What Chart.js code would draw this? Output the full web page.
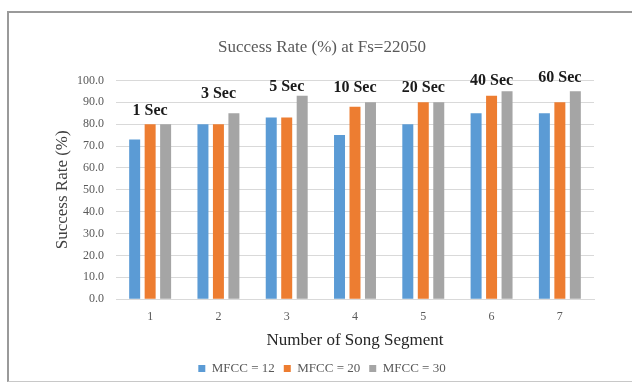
<!DOCTYPE html>
<html>
<head>
<meta charset="utf-8">
<script src="https://cdn.jsdelivr.net/npm/chart.js@4.4.1/dist/chart.umd.min.js"></script>
<style>
  html, body { margin: 0; padding: 0; background: #ffffff; }
  #wrap { position: relative; width: 632px; height: 385px; overflow: hidden; }
  #frame { position: absolute; left: 7px; top: 11px; width: 660px; height: 368px;
           border-left: 2px solid #9a9a9a; border-top: 2px solid #9a9a9a; border-bottom: 1px solid #c8c8c8; }
  canvas { position: absolute; left: 0; top: 0; }
</style>
</head>
<body>
<div id="wrap">
  <div id="frame"></div>
  <canvas id="c" width="632" height="385"></canvas>
</div>
<script>
const categories = ['1', '2', '3', '4', '5', '6', '7'];
const segmentLabels = ['1 Sec', '3 Sec', '5 Sec', '10 Sec', '20 Sec', '40 Sec', '60 Sec'];
const segmentLabelValues = [86, 94, 97, 96.5, 96.5, 100, 101];
const mfcc12 = [73, 80, 83, 75, 80, 85, 85];
const mfcc20 = [80, 80, 83, 88, 90, 93, 90];
const mfcc30 = [80, 85, 93, 90, 90, 95, 95];
const yTicks = [0, 10, 20, 30, 40, 50, 60, 70, 80, 90, 100];

const serif = "'Liberation Serif', 'Times New Roman', serif";

const secLabelPlugin = {
  id: 'secLabels',
  afterDatasetsDraw(chart) {
    const ctx = chart.ctx;
    const xs = chart.scales.x, ys = chart.scales.y;
    ctx.save();
    ctx.font = "bold 16px " + serif;
    ctx.fillStyle = '#1a1a1a';
    ctx.textAlign = 'center';
    ctx.textBaseline = 'middle';
    segmentLabels.forEach((t, i) => {
      ctx.fillText(t, xs.getPixelForValue(i), ys.getPixelForValue(segmentLabelValues[i]));
    });
    ctx.restore();
  }
};

new Chart(document.getElementById('c'), {
  type: 'bar',
  data: {
    labels: categories,
    datasets: [
      { label: 'MFCC = 12', data: mfcc12, backgroundColor: '#5B9BD5' },
      { label: 'MFCC = 20', data: mfcc20, backgroundColor: '#ED7D31' },
      { label: 'MFCC = 30', data: mfcc30, backgroundColor: '#A5A5A5' }
    ]
  },
  options: {
    responsive: false,
    animation: false,
    devicePixelRatio: 1,
    categoryPercentage: 0.68,
    barPercentage: 0.71,
    layout: { padding: { left: 50, right: 38, top: 22, bottom: 0 } },
    plugins: {
      title: {
        display: true,
        text: 'Success Rate (%) at Fs=22050',
        color: '#595959',
        font: { family: serif, size: 17, weight: 'normal' },
        padding: { top: 15, bottom: 23 }
      },
      legend: {
        position: 'bottom',
        labels: {
          color: '#595959',
          font: { family: serif, size: 13 },
          boxWidth: 7,
          boxHeight: 7,
          padding: 9
        }
      },
      tooltip: { enabled: false }
    },
    scales: {
      x: {
        grid: { display: false, drawTicks: false },
        border: { display: true, color: '#d9d9d9' },
        ticks: { color: '#595959', font: { family: serif, size: 12 }, padding: 10 },
        title: {
          display: true,
          text: 'Number of Song Segment',
          color: '#262626',
          font: { family: serif, size: 17 },
          padding: { top: -3, bottom: 2 }
        }
      },
      y: {
        min: 0,
        max: 100,
        afterFit(scale) { scale.width = 66; },
        afterBuildTicks(scale) { scale.ticks = yTicks.map(v => ({ value: v })); },
        grid: { color: '#d9d9d9', drawTicks: false },
        border: { display: false },
        ticks: {
          color: '#595959',
          font: { family: serif, size: 12 },
          padding: 12,
          callback: v => Number(v).toFixed(1)
        },
        title: {
          display: true,
          text: 'Success Rate (%)',
          color: '#404040',
          font: { family: serif, size: 17 },
          padding: { top: 2, bottom: 0 }
        }
      }
    }
  },
  plugins: [secLabelPlugin]
});
</script>
</body>
</html>
